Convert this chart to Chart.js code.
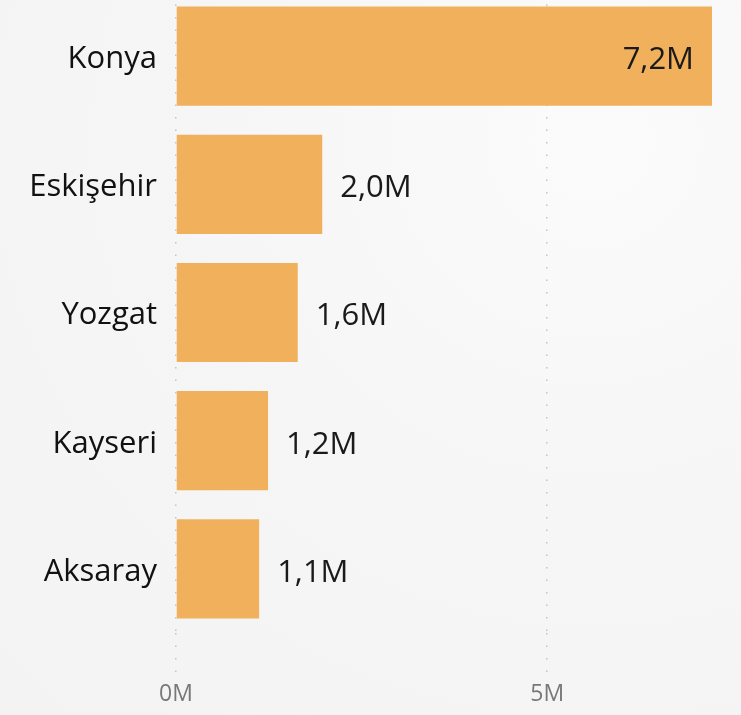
<!DOCTYPE html>
<html>
<head>
<meta charset="utf-8">
<script src="https://cdn.jsdelivr.net/npm/chart.js@4"></script>
<style>
  html, body { margin: 0; padding: 0; }
  body {
    width: 741px; height: 715px; overflow: hidden; position: relative;
    background: radial-gradient(ellipse at 80% 20%, #fbfbfb 0%, #f6f6f6 45%, #f3f3f3 100%);
  }
  #wrap { position: absolute; left: 0; top: -8px; width: 741px; height: 723px; }
</style>
</head>
<body>
<div id="wrap"><canvas id="chart"></canvas></div>
<script>
// values in millions
const provinces = ["Konya", "Eskişehir", "Yozgat", "Kayseri", "Aksaray"];
const amounts = [7.22, 1.97, 1.64, 1.24, 1.12];
const xTicks = [0, 5];

const fmt = v => v.toFixed(1).replace('.', ',') + 'M';

// draws the value next to (or inside) each bar
const valueLabels = {
    id: 'valueLabels',
    afterDatasetsDraw(chart) {
        const ctx = chart.ctx;
        const meta = chart.getDatasetMeta(0);
        ctx.save();
        ctx.font = '31px "Open Sans"';
        ctx.fillStyle = '#1a1a1a';
        ctx.textBaseline = 'middle';
        meta.data.forEach((bar, i) => {
            const txt = fmt(amounts[i]);
            const w = ctx.measureText(txt).width;
            if (bar.x + 18 + w > chart.chartArea.right) {
                ctx.textAlign = 'right';
                ctx.fillText(txt, bar.x - 18, bar.y + 4);
            } else {
                ctx.textAlign = 'left';
                ctx.fillText(txt, bar.x + 18, bar.y + 4);
            }
        });
        ctx.restore();
    }
};

new Chart(document.getElementById('chart'), {
    type: 'bar',
    data: {
        labels: provinces,
        datasets: [{
            data: amounts,
            backgroundColor: '#f0b05c',
            barPercentage: 0.86,
            categoryPercentage: 0.9
        }]
    },
    options: {
        indexAxis: 'y',
        responsive: true,
        maintainAspectRatio: false,
        animation: false,
        layout: { padding: { left: 0, right: 29, top: 0, bottom: 6 } },
        plugins: { legend: { display: false }, tooltip: { enabled: false } },
        scales: {
            x: {
                min: 0,
                max: amounts[0],
                afterBuildTicks: s => { s.ticks = xTicks.map(v => ({ value: v })); },
                afterFit: s => { s.height = 76; },
                grid: {
                    color: '#c4c4c4',
                    lineWidth: 1.5,
                    tickBorderDash: [1.5, 11],
                    tickLength: 40,
                    drawTicks: true
                },
                border: { display: false, dash: [1.5, 11] },
                ticks: {
                    padding: 8,
                    color: '#787878',
                    font: { family: '"Open Sans"', size: 23 },
                    callback: v => v + 'M'
                }
            },
            y: {
                afterFit: s => { s.width = 176; s.paddingTop = 0; s.paddingBottom = 0; },
                grid: { display: false, drawTicks: false },
                border: { display: false },
                ticks: {
                    padding: 19,
                    labelOffset: 3,
                    color: '#111111',
                    font: { family: '"Open Sans"', size: 31 }
                }
            }
        }
    },
    plugins: [valueLabels]
});
</script>
</body>
</html>
